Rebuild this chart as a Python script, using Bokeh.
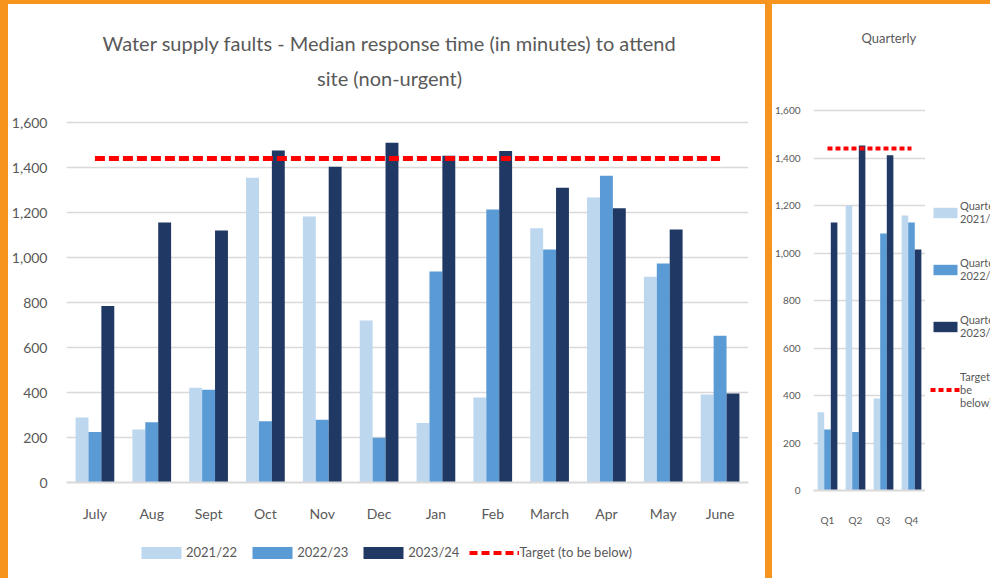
from bokeh.plotting import figure
from bokeh.models import (ColumnDataSource, FactorRange, Range1d, FixedTicker,
                          NumeralTickFormatter, Legend, LegendItem, Label, Div, Spacer)
from bokeh.transform import dodge
from bokeh.layouts import row, column
from bokeh.embed import file_html
from bokeh.resources import INLINE

# ---------------- data ----------------
months = ["July", "Aug", "Sept", "Oct", "Nov", "Dec", "Jan", "Feb", "March", "Apr", "May", "June"]
fy2122 = [289, 236, 421, 1354, 1182, 720, 265, 378, 1130, 1267, 914, 391]
fy2223 = [224, 268, 412, 272, 279, 199, 938, 1213, 1036, 1363, 973, 652]
fy2324 = [784, 1156, 1120, 1476, 1403, 1510, 1452, 1473, 1310, 1219, 1124, 396]
target = [1440] * 12

quarters = ["Q1", "Q2", "Q3", "Q4"]
q2122 = [330, 1200, 387, 1158]
q2223 = [257, 246, 1082, 1128]
q2324 = [1128, 1453, 1412, 1015]
q_target = [1440] * 4

y_ticks = [0, 200, 400, 600, 800, 1000, 1200, 1400, 1600]

# ---------------- styles ----------------
C1, C2, C3 = "#BDD7EE", "#5B9BD5", "#203864"
RED = "#FF0000"
TXT = "#595959"
GRID = "#D9D9D9"
ORANGE = "#F7941D"
FONT = "Lato"
NAN = float("nan")


def style_axes(fig, size, ystand, xstand):
    for ax in (fig.yaxis, fig.xaxis):
        ax.major_tick_line_color = None
        ax.minor_tick_line_color = None
        ax.major_label_text_font = FONT
        ax.major_label_text_font_size = size
        ax.major_label_text_color = TXT
    fig.yaxis.ticker = FixedTicker(ticks=y_ticks)
    fig.yaxis.formatter = NumeralTickFormatter(format="0,0")
    fig.yaxis.axis_line_color = None
    fig.yaxis.major_label_standoff = ystand
    fig.xaxis.axis_line_color = GRID
    fig.xaxis.axis_line_width = 2
    fig.xaxis.major_label_standoff = xstand
    fig.xgrid.grid_line_color = None
    fig.ygrid.grid_line_color = GRID
    fig.ygrid.grid_line_width = 1.5
    fig.outline_line_color = None


def legend_fig(w, h):
    f = figure(width=w, height=h, x_range=Range1d(0, 1), y_range=Range1d(0, 1),
               output_backend="svg", toolbar_location=None,
               min_border_left=0, min_border_right=0, min_border_top=0, min_border_bottom=0,
               x_axis_location=None, y_axis_location=None)
    f.grid.visible = False
    f.outline_line_color = None
    return f


# ---------------- left chart (frame: y 4..482 px, 0 at 482, 1600 at 122) ----------------
src = ColumnDataSource(dict(m=months, a=fy2122, b=fy2223, c=fy2324, t=target))
p = figure(width=757, height=522, x_range=FactorRange(*months, range_padding=0),
           y_range=Range1d(0, 1600 * 478 / 360), output_backend="svg", toolbar_location=None,
           min_border_left=54, min_border_right=17, min_border_top=0, min_border_bottom=44)
style_axes(p, "14px", 13, 16)

bw = 0.227
p.vbar(x=dodge("m", -bw, range=p.x_range), top="a", width=bw, source=src, fill_color=C1, line_color=None)
p.vbar(x=dodge("m", 0, range=p.x_range), top="b", width=bw, source=src, fill_color=C2, line_color=None)
p.vbar(x=dodge("m", bw, range=p.x_range), top="c", width=bw, source=src, fill_color=C3, line_color=None)
p.line(x="m", y="t", source=src, line_color=RED, line_width=5, line_dash="10 4")

p.add_layout(Label(x=5.685, y=1955, text="Water supply faults - Median response time (in minutes) to attend",
                   text_align="center", text_baseline="middle", text_font=FONT,
                   text_font_size="20px", text_color=TXT))
p.add_layout(Label(x=5.685, y=1800, text="site (non-urgent)",
                   text_align="center", text_baseline="middle", text_font=FONT,
                   text_font_size="20px", text_color=TXT))

# left legend (proxy renderers carry no visible data)
lf = legend_fig(757, 52)
e1 = lf.vbar(x=[NAN], top=[NAN], width=1, fill_color=C1, line_color=None)
e2 = lf.vbar(x=[NAN], top=[NAN], width=1, fill_color=C2, line_color=None)
e3 = lf.vbar(x=[NAN], top=[NAN], width=1, fill_color=C3, line_color=None)
e4 = lf.line(x=[NAN, NAN], y=[NAN, NAN], line_color=RED, line_width=4, line_dash="8 4")
lf.add_layout(Legend(items=[LegendItem(label="2021/22", renderers=[e1]),
                            LegendItem(label="2022/23", renderers=[e2]),
                            LegendItem(label="2023/24", renderers=[e3]),
                            LegendItem(label="Target (to be below)", renderers=[e4])],
                     orientation="horizontal", location=(70, 18), margin=0,
                     glyph_width=50, glyph_height=15, label_height=15, label_standoff=0,
                     spacing=10, padding=0, border_line_color=None,
                     background_fill_alpha=0, label_text_font=FONT,
                     label_text_font_size="13px", label_text_color=TXT))

# ---------------- right chart (frame: y 4..490 px, 0 at 490, 1600 at 110) ----------------
qsrc = ColumnDataSource(dict(q=quarters, a=q2122, b=q2223, c=q2324, t=q_target))
q = figure(width=153, height=574, x_range=FactorRange(*quarters, range_padding=0),
           y_range=Range1d(0, 1600 * 486 / 380), output_backend="svg", toolbar_location=None,
           min_border_left=34, min_border_right=0, min_border_top=0, min_border_bottom=88)
style_axes(q, "10px", 7, 17)

qbw = 0.235
q.vbar(x=dodge("q", -qbw, range=q.x_range), top="a", width=qbw, source=qsrc, fill_color=C1, line_color=None)
q.vbar(x=dodge("q", 0, range=q.x_range), top="b", width=qbw, source=qsrc, fill_color=C2, line_color=None)
q.vbar(x=dodge("q", qbw, range=q.x_range), top="c", width=qbw, source=qsrc, fill_color=C3, line_color=None)
q.line(x="q", y="t", source=qsrc, line_color=RED, line_width=4, line_dash="5 3")

q.add_layout(Label(x=2.69, y=1907, text="Quarterly", text_align="center", text_baseline="middle",
                   text_font=FONT, text_font_size="13px", text_color=TXT))

# right legend
rf = legend_fig(65, 384)
f1 = rf.vbar(x=[NAN], top=[NAN], width=1, fill_color=C1, line_color=None)
f2 = rf.vbar(x=[NAN], top=[NAN], width=1, fill_color=C2, line_color=None)
f3 = rf.vbar(x=[NAN], top=[NAN], width=1, fill_color=C3, line_color=None)
f4 = rf.line(x=[NAN, NAN], y=[NAN, NAN], line_color=RED, line_width=4, line_dash="5 3")
rf.add_layout(Legend(items=[LegendItem(label="Quarterly\n2021/22", renderers=[f1]),
                            LegendItem(label="Quarterly\n2022/23", renderers=[f2]),
                            LegendItem(label="Quarterly\n2023/24", renderers=[f3]),
                            LegendItem(label="Target (to\nbe\nbelow)", renderers=[f4])],
                     orientation="vertical", location="top_left", margin=5,
                     glyph_width=30, glyph_height=13, label_height=13, label_standoff=0,
                     spacing=31, padding=0, border_line_color=None,
                     background_fill_alpha=0, label_text_font=FONT,
                     label_text_font_size="11px", label_text_color=TXT))

# ---------------- page frame ----------------
top_strip = Div(text="", width=990, height=4, margin=0, styles={"background-color": ORANGE})
left_strip = Div(text="", width=8, height=574, margin=0, styles={"background-color": ORANGE})
sep = Div(text="", width=7, height=574, margin=0, styles={"background-color": ORANGE})

layout = column(top_strip,
                row(left_strip, column(p, lf, spacing=0), sep, q,
                    column(Spacer(width=65, height=190), rf, spacing=0), spacing=0),
                spacing=0)

open("out.html", "w").write(file_html(layout, INLINE))
